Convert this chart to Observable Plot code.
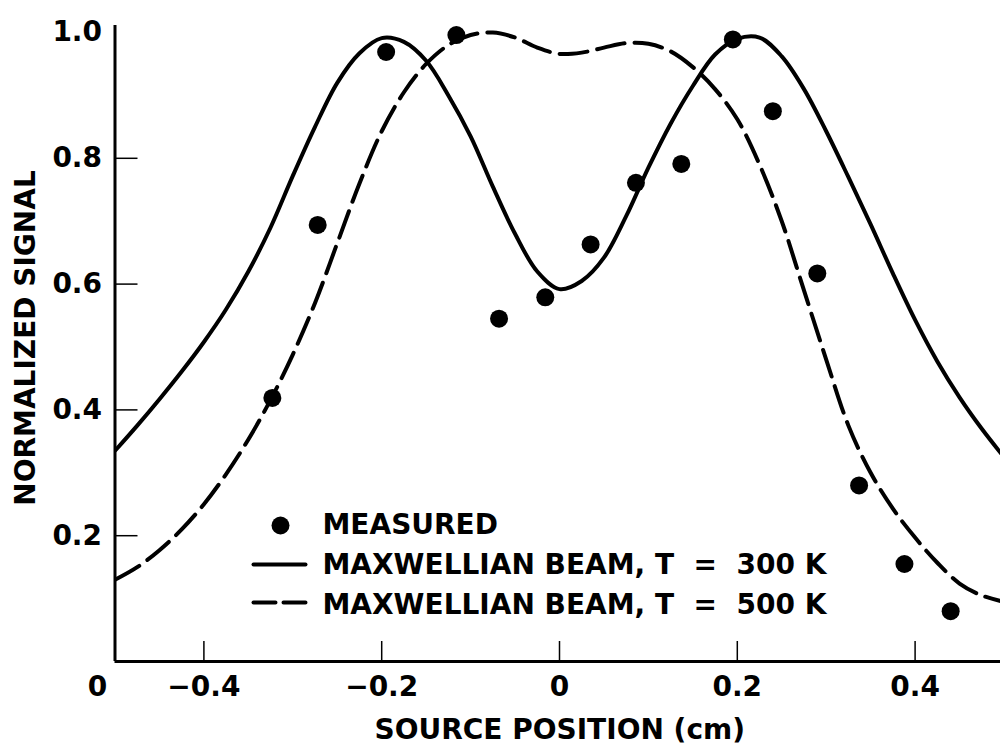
<!DOCTYPE html>
<html>
<head>
<meta charset="utf-8">
<script src="https://cdn.jsdelivr.net/npm/d3@7"></script>
<script src="https://cdn.jsdelivr.net/npm/@observablehq/plot@0.6"></script>
<style>
  html, body { margin: 0; padding: 0; background: #fff; overflow: hidden; }
  #chart svg text { white-space: pre; }
</style>
</head>
<body>
<div id="chart"></div>
<script>
// Source position (cm) at which the model curves are tabulated
const curveX = [
  -0.500, -0.475, -0.450, -0.425, -0.400, -0.375, -0.350, -0.325, -0.300, -0.275,
  -0.250, -0.225, -0.200, -0.175, -0.150, -0.125, -0.100, -0.075, -0.050, -0.025,
   0.000,  0.025,  0.050,  0.075,  0.100,  0.125,  0.150,  0.175,  0.200,  0.225,
   0.250,  0.275,  0.300,  0.325,  0.350,  0.375,  0.400,  0.425,  0.450,  0.475,
   0.500
];

// Maxwellian beam, T = 300 K
const signal300 = [
  0.335, 0.375, 0.417, 0.461, 0.508, 0.560, 0.620, 0.690, 0.772, 0.850,
  0.920, 0.967, 0.991, 0.985, 0.955, 0.900, 0.835, 0.755, 0.680, 0.620,
  0.592, 0.605, 0.642, 0.708, 0.785, 0.855, 0.915, 0.965, 0.990, 0.992,
  0.962, 0.910, 0.843, 0.770, 0.695, 0.617, 0.543, 0.477, 0.420, 0.370,
  0.325
];

// Maxwellian beam, T = 500 K
const signal500 = [
  0.130, 0.150, 0.177, 0.210, 0.250, 0.298, 0.353, 0.416, 0.488, 0.570,
  0.665, 0.760, 0.843, 0.905, 0.950, 0.980, 0.996, 1.000, 0.992, 0.976,
  0.966, 0.968, 0.976, 0.983, 0.982, 0.970, 0.945, 0.910, 0.862, 0.790,
  0.700, 0.590, 0.480, 0.375, 0.300, 0.243, 0.197, 0.157, 0.124, 0.105,
  0.095
];

// Measured signal
const measuredX = [-0.323, -0.272, -0.195, -0.116, -0.068, -0.016, 0.035, 0.086, 0.137, 0.195, 0.240, 0.290, 0.337, 0.388, 0.440];
const measuredY = [ 0.419,  0.694,  0.969,  0.996,  0.545,  0.579, 0.663, 0.761, 0.791, 0.989, 0.875, 0.617, 0.280, 0.155, 0.080];

// Axes
const xTicks = [-0.4, -0.2, 0, 0.2, 0.4];
const xTickLabels = ["\u22120.4", "\u22120.2", "0", "0.2", "0.4"];
const yTicks = [0.2, 0.4, 0.6, 0.8, 1.0];
const yTickLabels = ["0.2", "0.4", "0.6", "0.8", "1.0"];
const yTickMarks = [0.2, 0.4, 0.6, 0.8];
const originLabel = "0";
const xTitle = "SOURCE POSITION (cm)";
const yTitle = "NORMALIZED SIGNAL";

// Legend entries
const legendLabels = ["MEASURED", "MAXWELLIAN BEAM, T  =  300 K", "MAXWELLIAN BEAM, T  =  500 K"];

const curve300 = curveX.map((x, i) => ({x, y: signal300[i]}));
const curve500 = curveX.map((x, i) => ({x, y: signal500[i]}));
const measured = measuredX.map((x, i) => ({x, y: measuredY[i]}));

// a plain straight segment for the legend keys
const segment = {draw(context, l) { context.moveTo(0, 0); context.lineTo(0, -l); }};

const font = {fontSize: 28, fontWeight: "bold"};

const chart = Plot.plot({
  width: 1000,
  height: 747,
  marginLeft: 114.5,
  marginRight: 0,
  marginTop: 25,
  marginBottom: 86,
  style: {fontFamily: "'DejaVu Sans', sans-serif", fontSize: "28px", fontWeight: "bold", background: "#fff", color: "#000"},
  x: {domain: [-0.5, 0.5], range: [114.5, 1003.5]},
  y: {domain: [0, 1], range: [661, 32]},
  marks: [
    // axis lines
    Plot.ruleX([-0.5], {strokeWidth: 3}),
    Plot.ruleY([0], {strokeWidth: 3}),
    // inward tick marks
    Plot.axisY(yTickMarks, {tickSize: 23, dx: 23, fill: "none", strokeWidth: 1.5, label: null}),
    Plot.axisX(xTicks, {tickSize: 20, dy: -20, fill: "none", strokeWidth: 1.5, label: null}),
    // tick labels
    Plot.axisY(yTicks, {tickSize: 0, tickPadding: 13, tickFormat: d => yTickLabels[yTicks.indexOf(d)], label: null, ...font}),
    Plot.axisX(xTicks, {tickSize: 0, tickPadding: 15, tickFormat: d => xTickLabels[xTicks.indexOf(d)], label: null, ...font}),
    Plot.text([originLabel], {frameAnchor: "bottom-left", text: d => d, dx: -17.5, dy: 15, textAnchor: "middle", lineAnchor: "top", ...font}),
    // axis titles
    Plot.text([xTitle], {frameAnchor: "bottom", text: d => d, dx: 2, dy: 69, textAnchor: "middle", lineAnchor: "middle", ...font}),
    Plot.text([yTitle], {frameAnchor: "left", text: d => d, rotate: -90, dx: -88.5, dy: -5.5, textAnchor: "middle", lineAnchor: "middle", ...font}),
    // model curves
    Plot.line(curve300, {x: "x", y: "y", curve: "catmull-rom", stroke: "black", strokeWidth: 4, clip: true}),
    Plot.line(curve500, {x: "x", y: "y", curve: "catmull-rom", stroke: "black", strokeWidth: 4, strokeDasharray: "28,10", clip: true}),
    // measurements
    Plot.dot(measured, {x: "x", y: "y", r: 9, fill: "black"}),
    // legend
    Plot.dot([0], {frameAnchor: "bottom-left", dx: 165.5, dy: -136, r: 9, fill: "black"}),
    Plot.vector([0], {frameAnchor: "bottom-left", dx: 138.5, dy: -97, length: 52, rotate: 90, anchor: "start", shape: segment, stroke: "black", strokeWidth: 4}),
    Plot.vector([0], {frameAnchor: "bottom-left", dx: 138.5, dy: -59, length: 52, rotate: 90, anchor: "start", shape: segment, stroke: "black", strokeWidth: 4, strokeDasharray: "22,8"}),
    ...legendLabels.map((label, i) =>
      Plot.text([label], {frameAnchor: "bottom-left", text: d => d, dx: 207.5, dy: -136 + 40 * i, textAnchor: "start", lineAnchor: "middle", ...font})
    )
  ]
});

document.getElementById("chart").appendChild(chart);
</script>
</body>
</html>
